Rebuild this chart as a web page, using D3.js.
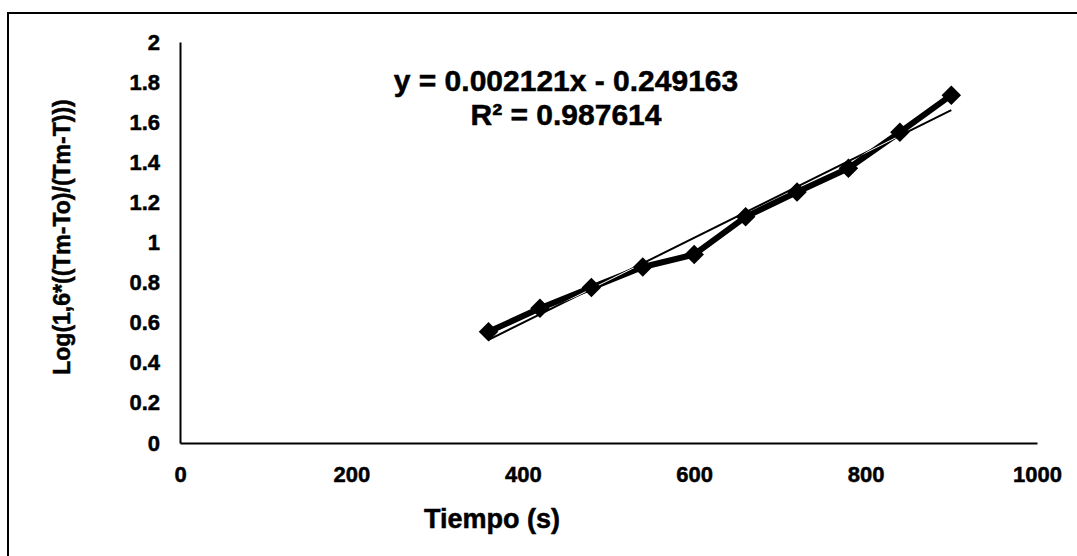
<!DOCTYPE html>
<html>
<head>
<meta charset="utf-8">
<script src="https://cdn.jsdelivr.net/npm/d3@7"></script>
<style>
  html, body { margin: 0; padding: 0; background: #fff; }
  svg text { font-family: "Liberation Sans", Arial, sans-serif; font-weight: bold; fill: #000; stroke: #000; stroke-width: 0.5px; }
</style>
</head>
<body>
<svg id="chart" width="1077" height="556"></svg>
<script>
// measured points (tiempo en s, log value)
const tiempo = [360, 420, 480, 540, 600, 660, 720, 780, 840, 900];
const logVal = [0.555, 0.672, 0.775, 0.878, 0.94, 1.128, 1.252, 1.37, 1.55, 1.735];
const xTicks = [0, 200, 400, 600, 800, 1000];
const yTicks = [0, 0.2, 0.4, 0.6, 0.8, 1, 1.2, 1.4, 1.6, 1.8, 2];
const slope = 0.002121, intercept = -0.249163;
const eqLines = ["y = 0.002121x - 0.249163", "R\u00B2 = 0.987614"];

const svg = d3.select("#chart");
const W = 1077, H = 556;

// frame (only top and left edges are in the crop)
svg.append("path")
    .attr("d", `M 8 ${H} L 8 13 L ${W} 13`)
    .attr("fill", "none")
    .attr("stroke", "#000")
    .attr("stroke-width", 2);

var x = d3.scaleLinear().domain([0, 1000]).range([180, 1037]);
var y = d3.scaleLinear().domain([0, 2]).range([443, 42]);

// axes, no tick marks
const xAxis = svg.append("g")
    .attr("transform", "translate(0," + y(0) + ")")
    .call(d3.axisBottom(x).tickValues(xTicks).tickSize(0).tickPadding(23).tickFormat(d3.format("d")));
const yAxis = svg.append("g")
    .attr("transform", "translate(" + x(0) + ",0)")
    .call(d3.axisLeft(y).tickValues(yTicks).tickSize(0).tickPadding(20).tickFormat(d => String(d)));

[xAxis, yAxis].forEach(a => {
    a.select(".domain").attr("stroke", "#000").attr("stroke-width", 2);
    a.selectAll("text").style("font-size", "22px")
        .style("font-family", "'Liberation Sans', Arial, sans-serif")
        .style("font-weight", "bold");
});

const pts = tiempo.map((t, i) => ({ t: t, v: logVal[i] }));

const line = d3.line().x(d => x(d.t)).y(d => y(d.v));

// trend line ends
const tx = d3.extent(tiempo);
const trend = tx.map(t => ({ t: t, v: slope * t + intercept }));

// mask so the trend shows white where it crosses the thick data line
const defs = svg.append("defs");
defs.append("mask").attr("id", "onData")
    .append("path")
    .attr("d", line(pts))
    .attr("fill", "none")
    .attr("stroke", "#fff")
    .attr("stroke-width", 6);

svg.append("path")
    .attr("d", line(trend))
    .attr("fill", "none")
    .attr("stroke", "#000")
    .attr("stroke-width", 2);

svg.append("path")
    .attr("d", line(pts))
    .attr("fill", "none")
    .attr("stroke", "#000")
    .attr("stroke-width", 6)
    .attr("stroke-linejoin", "round");

svg.append("path")
    .attr("d", line(trend))
    .attr("fill", "none")
    .attr("stroke", "#fff")
    .attr("stroke-width", 1)
    .attr("mask", "url(#onData)");

// diamond markers
svg.selectAll("path.mark")
    .data(pts)
    .enter()
    .append("path")
    .attr("class", "mark")
    .attr("d", d3.symbol().type(d3.symbolSquare).size(190))
    .attr("transform", d => "translate(" + x(d.t) + "," + y(d.v) + ") rotate(45)")
    .attr("fill", "#000");

// regression label
svg.append("g").selectAll("text")
    .data(eqLines)
    .enter()
    .append("text")
    .attr("x", 566)
    .attr("y", (d, i) => 91 + i * 34)
    .attr("text-anchor", "middle")
    .style("font-size", "30px")
    .text(d => d);

// axis titles
svg.append("text")
    .attr("x", 492)
    .attr("y", 528)
    .attr("text-anchor", "middle")
    .style("font-size", "27px")
    .text("Tiempo (s)");

svg.append("text")
    .attr("transform", "translate(70,237) rotate(-90)")
    .attr("text-anchor", "middle")
    .style("font-size", "23px")
    .text("Log(1,6*((Tm-To)/(Tm-T)))");
</script>
</body>
</html>
